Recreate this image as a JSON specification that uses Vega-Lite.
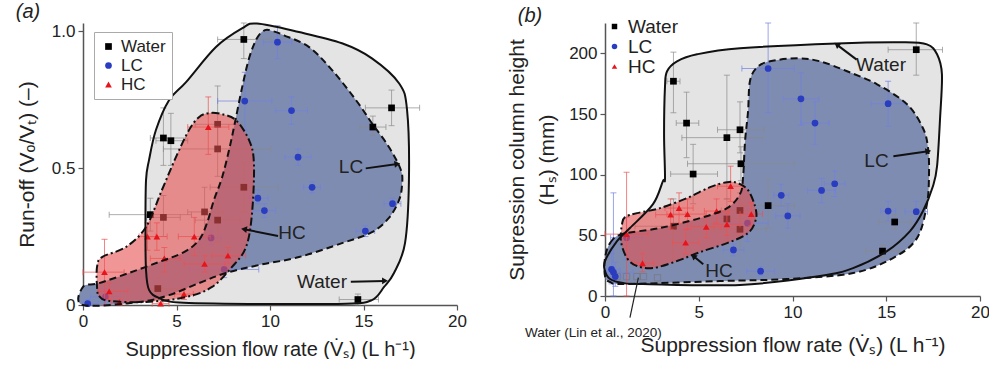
{
  "$schema": "https://vega.github.io/schema/vega-lite/v6.json",
  "padding": {"left": 15, "top": 2, "right": 0, "bottom": 0},
  "spacing": 39,
  "config": {
    "view": {"stroke": null},
    "font": "Liberation Sans",
    "axis": {"grid": false, "domainColor": "#555", "domainWidth": 1.5, "tickColor": "#555", "tickWidth": 1.2, "tickSize": 5, "labelFontSize": 17, "labelColor": "#222", "titleFontSize": 20, "titleFontWeight": "normal", "titleColor": "#222", "labelPadding": 3, "labelFlush": false},
    "text": {"color": "#222"}
  },
  "datasets": {
    "pts": [
      {"p":"a","s":"Water","x":8.6,"y":0.97,"xl":7.2,"xh":10.05,"yl":0.90,"yh":1.03},
      {"p":"a","s":"Water","x":4.3,"y":0.61,"xl":3.6,"xh":5.5,"yl":0.51,"yh":0.72},
      {"p":"a","s":"Water","x":4.7,"y":0.60,"xl":3.9,"xh":5.6,"yl":0.51,"yh":0.70},
      {"p":"a","s":"Water","x":7.2,"y":0.66,"xl":6.0,"xh":8.5,"yl":0.58,"yh":0.80},
      {"p":"a","s":"Water","x":7.2,"y":0.57,"xl":4.3,"xh":10.05,"yl":0.47,"yh":0.66},
      {"p":"a","s":"Water","x":16.5,"y":0.72,"xl":15.1,"xh":18.0,"yl":0.655,"yh":0.785},
      {"p":"a","s":"Water","x":15.5,"y":0.65,"xl":14.8,"xh":16.2,"yl":0.62,"yh":0.69},
      {"p":"a","s":"Water","x":8.6,"y":0.43,"xl":6.8,"xh":10.45,"yl":0.34,"yh":0.52},
      {"p":"a","s":"Water","x":3.6,"y":0.33,"xl":1.4,"xh":5.8,"yl":0.27,"yh":0.39},
      {"p":"a","s":"Water","x":4.3,"y":0.32,"xl":3.4,"xh":5.2,"yl":0.25,"yh":0.40},
      {"p":"a","s":"Water","x":6.5,"y":0.34,"xl":5.6,"xh":7.5,"yl":0.25,"yh":0.43},
      {"p":"a","s":"Water","x":7.2,"y":0.31,"xl":6.0,"xh":8.4,"yl":0.23,"yh":0.39},
      {"p":"a","s":"Water","x":4.0,"y":0.06,"xl":3.3,"xh":5.1,"yl":0.02,"yh":0.10},
      {"p":"a","s":"Water","x":14.7,"y":0.02,"xl":13.7,"xh":15.8,"yl":0.0,"yh":0.04},
      {"p":"a","s":"LC","x":10.4,"y":0.96,"xl":9.65,"xh":11.15,"yl":0.90,"yh":1.02},
      {"p":"a","s":"LC","x":8.65,"y":0.745,"xl":7.2,"xh":10.1,"yl":0.64,"yh":0.85},
      {"p":"a","s":"LC","x":11.15,"y":0.71,"xl":10.3,"xh":12.0,"yl":0.66,"yh":0.76},
      {"p":"a","s":"LC","x":11.5,"y":0.54,"xl":10.8,"xh":12.2,"yl":0.51,"yh":0.57},
      {"p":"a","s":"LC","x":12.25,"y":0.43,"xl":11.8,"xh":12.7,"yl":0.41,"yh":0.45},
      {"p":"a","s":"LC","x":9.35,"y":0.39,"xl":8.9,"xh":9.9,"yl":0.37,"yh":0.42},
      {"p":"a","s":"LC","x":9.7,"y":0.345,"xl":9.1,"xh":10.3,"yl":0.32,"yh":0.37},
      {"p":"a","s":"LC","x":16.55,"y":0.37,"xl":16.1,"xh":17.0,"yl":0.35,"yh":0.39},
      {"p":"a","s":"LC","x":15.1,"y":0.27,"xl":14.6,"xh":15.6,"yl":0.25,"yh":0.29},
      {"p":"a","s":"LC","x":7.55,"y":0.13,"xl":5.7,"xh":9.4,"yl":0.10,"yh":0.16},
      {"p":"a","s":"LC","x":6.85,"y":0.245,"xl":6.3,"xh":7.4,"yl":0.22,"yh":0.27},
      {"p":"a","s":"LC","x":0.25,"y":0.005,"xl":0.0,"xh":0.8,"yl":0.0,"yh":0.02},
      {"p":"a","s":"LC","x":1.2,"y":0.03,"xl":0.4,"xh":2.0,"yl":0.0,"yh":0.06},
      {"p":"a","s":"HC","x":6.7,"y":0.65,"xl":5.6,"xh":7.8,"yl":0.55,"yh":0.76},
      {"p":"a","s":"HC","x":3.45,"y":0.25,"xl":3.0,"xh":3.9,"yl":0.20,"yh":0.30},
      {"p":"a","s":"HC","x":3.95,"y":0.25,"xl":3.4,"xh":4.5,"yl":0.20,"yh":0.30},
      {"p":"a","s":"HC","x":5.95,"y":0.25,"xl":5.1,"xh":6.8,"yl":0.18,"yh":0.32},
      {"p":"a","s":"HC","x":4.35,"y":0.17,"xl":3.6,"xh":5.2,"yl":0.12,"yh":0.21},
      {"p":"a","s":"HC","x":6.5,"y":0.15,"xl":5.4,"xh":7.6,"yl":0.12,"yh":0.18},
      {"p":"a","s":"HC","x":7.75,"y":0.18,"xl":6.9,"xh":8.7,"yl":0.15,"yh":0.21},
      {"p":"a","s":"HC","x":1.15,"y":0.12,"xl":0.0,"xh":2.2,"yl":0.0,"yh":0.24},
      {"p":"a","s":"HC","x":1.4,"y":0.05,"xl":0.8,"xh":2.4,"yl":0.02,"yh":0.08},
      {"p":"a","s":"HC","x":5.4,"y":0.04,"xl":4.9,"xh":5.9,"yl":0.02,"yh":0.06},
      {"p":"a","s":"HC","x":1.95,"y":0.01,"xl":1.5,"xh":2.4,"yl":0.0,"yh":0.02},
      {"p":"a","s":"HC","x":4.15,"y":0.005,"xl":3.7,"xh":4.6,"yl":0.0,"yh":0.01},
      {"p":"b","s":"Water","x":3.65,"y":177,"xl":3.3,"xh":4.0,"yl":151,"yh":201},
      {"p":"b","s":"Water","x":4.35,"y":142.5,"xl":3.8,"xh":5.0,"yl":114,"yh":168},
      {"p":"b","s":"Water","x":4.7,"y":100.5,"xl":3.5,"xh":6.0,"yl":76,"yh":125},
      {"p":"b","s":"Water","x":6.5,"y":130.5,"xl":4.1,"xh":8.4,"yl":80,"yh":182},
      {"p":"b","s":"Water","x":7.2,"y":137,"xl":6.0,"xh":8.5,"yl":118,"yh":160},
      {"p":"b","s":"Water","x":7.25,"y":109,"xl":4.4,"xh":10.1,"yl":95,"yh":123},
      {"p":"b","s":"Water","x":16.6,"y":203,"xl":15.1,"xh":18.0,"yl":182,"yh":225},
      {"p":"b","s":"Water","x":3.65,"y":57.5,"xl":1.6,"xh":5.7,"yl":30,"yh":80},
      {"p":"b","s":"Water","x":6.5,"y":63.5,"xl":5.3,"xh":7.7,"yl":45,"yh":80},
      {"p":"b","s":"Water","x":7.2,"y":70.5,"xl":6.2,"xh":8.2,"yl":52,"yh":85},
      {"p":"b","s":"Water","x":7.2,"y":55,"xl":5.8,"xh":8.6,"yl":38,"yh":70},
      {"p":"b","s":"Water","x":8.7,"y":74.5,"xl":7.3,"xh":10.1,"yl":56,"yh":96},
      {"p":"b","s":"Water","x":15.45,"y":61,"xl":14.6,"xh":16.3,"yl":55,"yh":67},
      {"p":"b","s":"Water","x":14.8,"y":37,"xl":13.9,"xh":15.7,"yl":32,"yh":42},
      {"p":"b","s":"LC","x":8.7,"y":187.5,"xl":7.3,"xh":10.1,"yl":151,"yh":225},
      {"p":"b","s":"LC","x":10.45,"y":162.5,"xl":9.5,"xh":11.4,"yl":141,"yh":184},
      {"p":"b","s":"LC","x":11.2,"y":142.5,"xl":10.45,"xh":11.95,"yl":125,"yh":160},
      {"p":"b","s":"LC","x":15.1,"y":158.5,"xl":14.2,"xh":16.0,"yl":140,"yh":177},
      {"p":"b","s":"LC","x":9.4,"y":83,"xl":9.0,"xh":9.8,"yl":74,"yh":92},
      {"p":"b","s":"LC","x":11.55,"y":87,"xl":10.8,"xh":12.3,"yl":77,"yh":97},
      {"p":"b","s":"LC","x":12.25,"y":92.5,"xl":11.7,"xh":12.8,"yl":82,"yh":103},
      {"p":"b","s":"LC","x":9.75,"y":66,"xl":9.1,"xh":10.4,"yl":56,"yh":76},
      {"p":"b","s":"LC","x":15.1,"y":70,"xl":14.7,"xh":15.5,"yl":62,"yh":78},
      {"p":"b","s":"LC","x":16.6,"y":69.5,"xl":16.0,"xh":17.2,"yl":61,"yh":78},
      {"p":"b","s":"LC","x":6.85,"y":38,"xl":6.3,"xh":7.4,"yl":33,"yh":43},
      {"p":"b","s":"LC","x":8.3,"y":20.5,"xl":7.55,"xh":9.05,"yl":17,"yh":24},
      {"p":"b","s":"LC","x":7.6,"y":60,"xl":6.5,"xh":8.7,"yl":45,"yh":72},
      {"p":"b","s":"LC","x":1.15,"y":48,"xl":0.3,"xh":2.0,"yl":30,"yh":65},
      {"p":"b","s":"LC","x":0.45,"y":19.5,"xl":0.0,"xh":1.5,"yl":0,"yh":85},
      {"p":"b","s":"LC","x":0.35,"y":22,"xl":0.1,"xh":0.8,"yl":10,"yh":35},
      {"p":"b","s":"LC","x":0.55,"y":16,"xl":0.2,"xh":0.9,"yl":8,"yh":28},
      {"p":"b","s":"HC","x":1.15,"y":51,"xl":0.0,"xh":2.3,"yl":0,"yh":102},
      {"p":"b","s":"HC","x":2.0,"y":27,"xl":1.5,"xh":2.6,"yl":20,"yh":35},
      {"p":"b","s":"HC","x":3.5,"y":67,"xl":2.7,"xh":4.3,"yl":55,"yh":80},
      {"p":"b","s":"HC","x":3.95,"y":72.5,"xl":3.2,"xh":4.7,"yl":60,"yh":85},
      {"p":"b","s":"HC","x":4.4,"y":67.5,"xl":3.3,"xh":5.4,"yl":55,"yh":80},
      {"p":"b","s":"HC","x":4.3,"y":44,"xl":3.6,"xh":5.0,"yl":35,"yh":55},
      {"p":"b","s":"HC","x":5.4,"y":57,"xl":4.6,"xh":6.2,"yl":48,"yh":66},
      {"p":"b","s":"HC","x":5.95,"y":70,"xl":5.3,"xh":6.6,"yl":60,"yh":80},
      {"p":"b","s":"HC","x":6.5,"y":59,"xl":5.8,"xh":7.2,"yl":50,"yh":68},
      {"p":"b","s":"HC","x":6.7,"y":90.5,"xl":6.0,"xh":7.4,"yl":78,"yh":107},
      {"p":"b","s":"HC","x":7.8,"y":67.5,"xl":7.2,"xh":8.4,"yl":58,"yh":77}
    ],
    "lin": [
      {"x":0.65,"y":16},{"x":1.15,"y":16},{"x":1.7,"y":16},{"x":2.05,"y":16},{"x":2.8,"y":15}
    ],
    "minor": [
      {"p":"a","ax":"x","v":2.5},{"p":"a","ax":"x","v":7.5},{"p":"a","ax":"x","v":12.5},{"p":"a","ax":"x","v":17.5},
      {"p":"a","ax":"y","v":0.25},{"p":"a","ax":"y","v":0.75},
      {"p":"b","ax":"x","v":2.5},{"p":"b","ax":"x","v":7.5},{"p":"b","ax":"x","v":12.5},{"p":"b","ax":"x","v":17.5},
      {"p":"b","ax":"y","v":25},{"p":"b","ax":"y","v":75},{"p":"b","ax":"y","v":125},{"p":"b","ax":"y","v":175}
    ],
    "regions": [
      {"p":"a","r":"Water","i":0,"x":5.13,"y":0.009},{"p":"a","r":"Water","i":1,"x":4.06,"y":0.026},{"p":"a","r":"Water","i":2,"x":3.53,"y":0.055},{"p":"a","r":"Water","i":3,"x":3.37,"y":0.128},{"p":"a","r":"Water","i":4,"x":3.34,"y":0.274},{"p":"a","r":"Water","i":5,"x":3.37,"y":0.456},{"p":"a","r":"Water","i":6,"x":3.53,"y":0.529},{"p":"a","r":"Water","i":7,"x":3.9,"y":0.639},{"p":"a","r":"Water","i":8,"x":4.6,"y":0.748},{"p":"a","r":"Water","i":9,"x":5.51,"y":0.814},{"p":"a","r":"Water","i":10,"x":7.11,"y":0.942},{"p":"a","r":"Water","i":11,"x":8.5,"y":1.01},{"p":"a","r":"Water","i":12,"x":9.3,"y":1.028},{"p":"a","r":"Water","i":13,"x":11.55,"y":0.997},{"p":"a","r":"Water","i":14,"x":13.85,"y":0.956},{"p":"a","r":"Water","i":15,"x":15.45,"y":0.901},{"p":"a","r":"Water","i":16,"x":16.9,"y":0.81},{"p":"a","r":"Water","i":17,"x":17.33,"y":0.712},{"p":"a","r":"Water","i":18,"x":17.43,"y":0.456},{"p":"a","r":"Water","i":19,"x":17.22,"y":0.226},{"p":"a","r":"Water","i":20,"x":16.63,"y":0.117},{"p":"a","r":"Water","i":21,"x":16.1,"y":0.066},{"p":"a","r":"Water","i":22,"x":15.45,"y":0.018},{"p":"a","r":"Water","i":23,"x":14.06,"y":0.005},{"p":"a","r":"Water","i":24,"x":8.88,"y":0.004},
      {"p":"a","r":"LC","i":0,"x":0,"y":0.066},{"p":"a","r":"LC","i":1,"x":0.86,"y":0.08},{"p":"a","r":"LC","i":2,"x":2.46,"y":0.117},{"p":"a","r":"LC","i":3,"x":4.06,"y":0.157},{"p":"a","r":"LC","i":4,"x":5.4,"y":0.193},{"p":"a","r":"LC","i":5,"x":6.2,"y":0.237},{"p":"a","r":"LC","i":6,"x":6.63,"y":0.299},{"p":"a","r":"LC","i":7,"x":7.0,"y":0.383},{"p":"a","r":"LC","i":8,"x":7.43,"y":0.464},{"p":"a","r":"LC","i":9,"x":7.81,"y":0.566},{"p":"a","r":"LC","i":10,"x":8.13,"y":0.668},{"p":"a","r":"LC","i":11,"x":8.5,"y":0.792},{"p":"a","r":"LC","i":12,"x":8.88,"y":0.901},{"p":"a","r":"LC","i":13,"x":9.3,"y":0.974},{"p":"a","r":"LC","i":14,"x":9.73,"y":1.004},{"p":"a","r":"LC","i":15,"x":10.16,"y":1.0},{"p":"a","r":"LC","i":16,"x":10.75,"y":0.985},{"p":"a","r":"LC","i":17,"x":12.09,"y":0.942},{"p":"a","r":"LC","i":18,"x":13.32,"y":0.858},{"p":"a","r":"LC","i":19,"x":14.6,"y":0.748},{"p":"a","r":"LC","i":20,"x":15.45,"y":0.664},{"p":"a","r":"LC","i":21,"x":16.36,"y":0.577},{"p":"a","r":"LC","i":22,"x":17.0,"y":0.493},{"p":"a","r":"LC","i":23,"x":17.06,"y":0.438},{"p":"a","r":"LC","i":24,"x":16.9,"y":0.383},{"p":"a","r":"LC","i":25,"x":16.36,"y":0.318},{"p":"a","r":"LC","i":26,"x":15.45,"y":0.266},{"p":"a","r":"LC","i":27,"x":13.85,"y":0.226},{"p":"a","r":"LC","i":28,"x":11.55,"y":0.175},{"p":"a","r":"LC","i":29,"x":9.41,"y":0.146},{"p":"a","r":"LC","i":30,"x":7.65,"y":0.117},{"p":"a","r":"LC","i":31,"x":6.2,"y":0.08},{"p":"a","r":"LC","i":32,"x":4.6,"y":0.036},{"p":"a","r":"LC","i":33,"x":3.0,"y":0.011},{"p":"a","r":"LC","i":34,"x":0,"y":0},
      {"p":"a","r":"HC","i":0,"x":0.75,"y":0.066},{"p":"a","r":"HC","i":1,"x":0.86,"y":0.033},{"p":"a","r":"HC","i":2,"x":1.39,"y":0.015},{"p":"a","r":"HC","i":3,"x":3.37,"y":0.011},{"p":"a","r":"HC","i":4,"x":5.51,"y":0.029},{"p":"a","r":"HC","i":5,"x":6.9,"y":0.066},{"p":"a","r":"HC","i":6,"x":7.97,"y":0.139},{"p":"a","r":"HC","i":7,"x":8.72,"y":0.212},{"p":"a","r":"HC","i":8,"x":9.04,"y":0.336},{"p":"a","r":"HC","i":9,"x":9.14,"y":0.518},{"p":"a","r":"HC","i":10,"x":8.88,"y":0.602},{"p":"a","r":"HC","i":11,"x":8.18,"y":0.675},{"p":"a","r":"HC","i":12,"x":7.43,"y":0.697},{"p":"a","r":"HC","i":13,"x":6.74,"y":0.701},{"p":"a","r":"HC","i":14,"x":6.2,"y":0.686},{"p":"a","r":"HC","i":15,"x":5.67,"y":0.639},{"p":"a","r":"HC","i":16,"x":4.97,"y":0.54},{"p":"a","r":"HC","i":17,"x":4.22,"y":0.42},{"p":"a","r":"HC","i":18,"x":3.37,"y":0.285},{"p":"a","r":"HC","i":19,"x":2.3,"y":0.212},{"p":"a","r":"HC","i":20,"x":1.02,"y":0.175},{"p":"a","r":"HC","i":21,"x":0.75,"y":0.139},
      {"p":"b","r":"Water","i":0,"x":3.2,"y":97.1},{"p":"b","r":"Water","i":1,"x":3.15,"y":133.3},{"p":"b","r":"Water","i":2,"x":3.2,"y":172.8},{"p":"b","r":"Water","i":3,"x":3.31,"y":185.2},{"p":"b","r":"Water","i":4,"x":3.84,"y":193.4},{"p":"b","r":"Water","i":5,"x":4.91,"y":199.2},{"p":"b","r":"Water","i":6,"x":7.2,"y":204.1},{"p":"b","r":"Water","i":7,"x":12.37,"y":208.2},{"p":"b","r":"Water","i":8,"x":15.89,"y":209.1},{"p":"b","r":"Water","i":9,"x":17.17,"y":207.4},{"p":"b","r":"Water","i":10,"x":17.71,"y":199.2},{"p":"b","r":"Water","i":11,"x":17.97,"y":182.7},{"p":"b","r":"Water","i":12,"x":17.87,"y":146.5},{"p":"b","r":"Water","i":13,"x":17.71,"y":107},{"p":"b","r":"Water","i":14,"x":17.49,"y":90.5},{"p":"b","r":"Water","i":15,"x":16.96,"y":70},{"p":"b","r":"Water","i":16,"x":16.27,"y":53.5},{"p":"b","r":"Water","i":17,"x":15.04,"y":37},{"p":"b","r":"Water","i":18,"x":13.23,"y":23},{"p":"b","r":"Water","i":19,"x":11.47,"y":16.5},{"p":"b","r":"Water","i":20,"x":7.2,"y":9.1},{"p":"b","r":"Water","i":21,"x":2.03,"y":9.9},{"p":"b","r":"Water","i":22,"x":0.96,"y":10.7},{"p":"b","r":"Water","i":23,"x":0.27,"y":14},{"p":"b","r":"Water","i":24,"x":0,"y":20.6},{"p":"b","r":"Water","i":25,"x":0,"y":28.8},{"p":"b","r":"Water","i":26,"x":0.64,"y":45.3},{"p":"b","r":"Water","i":27,"x":1.33,"y":56},{"p":"b","r":"Water","i":28,"x":2.56,"y":75.7},{"p":"b","r":"Water","i":29,"x":3.09,"y":94.7},
      {"p":"b","r":"LC","i":0,"x":0,"y":31.3},{"p":"b","r":"LC","i":1,"x":0.27,"y":43.6},{"p":"b","r":"LC","i":2,"x":0.91,"y":51},{"p":"b","r":"LC","i":3,"x":2.93,"y":56},{"p":"b","r":"LC","i":4,"x":5.07,"y":64.2},{"p":"b","r":"LC","i":5,"x":6.51,"y":72.4},{"p":"b","r":"LC","i":6,"x":7.2,"y":84},{"p":"b","r":"LC","i":7,"x":7.36,"y":97.1},{"p":"b","r":"LC","i":8,"x":7.47,"y":127.6},{"p":"b","r":"LC","i":9,"x":7.63,"y":152.3},{"p":"b","r":"LC","i":10,"x":7.73,"y":177},{"p":"b","r":"LC","i":11,"x":8.11,"y":188.5},{"p":"b","r":"LC","i":12,"x":8.8,"y":193.4},{"p":"b","r":"LC","i":13,"x":10.24,"y":195.9},{"p":"b","r":"LC","i":14,"x":11.47,"y":193.4},{"p":"b","r":"LC","i":15,"x":12.91,"y":185.2},{"p":"b","r":"LC","i":16,"x":14.51,"y":174.5},{"p":"b","r":"LC","i":17,"x":16.11,"y":158},{"p":"b","r":"LC","i":18,"x":16.96,"y":138.3},{"p":"b","r":"LC","i":19,"x":17.23,"y":121.8},{"p":"b","r":"LC","i":20,"x":17.28,"y":100.4},{"p":"b","r":"LC","i":21,"x":17.17,"y":75.7},{"p":"b","r":"LC","i":22,"x":16.64,"y":47.7},{"p":"b","r":"LC","i":23,"x":15.36,"y":31.3},{"p":"b","r":"LC","i":24,"x":13.23,"y":18.9},{"p":"b","r":"LC","i":25,"x":9.71,"y":14},{"p":"b","r":"LC","i":26,"x":6.13,"y":12.3},{"p":"b","r":"LC","i":27,"x":1.17,"y":9.9},{"p":"b","r":"LC","i":28,"x":0.27,"y":11.5},{"p":"b","r":"LC","i":29,"x":0,"y":16.5},
      {"p":"b","r":"HC","i":0,"x":0.85,"y":45.3},{"p":"b","r":"HC","i":1,"x":0.91,"y":59.3},{"p":"b","r":"HC","i":2,"x":1.07,"y":65},{"p":"b","r":"HC","i":3,"x":1.71,"y":68.3},{"p":"b","r":"HC","i":4,"x":2.93,"y":72.4},{"p":"b","r":"HC","i":5,"x":4.37,"y":80.7},{"p":"b","r":"HC","i":6,"x":5.6,"y":89.7},{"p":"b","r":"HC","i":7,"x":6.51,"y":93.8},{"p":"b","r":"HC","i":8,"x":7.09,"y":93},{"p":"b","r":"HC","i":9,"x":7.63,"y":87.2},{"p":"b","r":"HC","i":10,"x":8.0,"y":74.1},{"p":"b","r":"HC","i":11,"x":8.05,"y":63.4},{"p":"b","r":"HC","i":12,"x":7.63,"y":51.9},{"p":"b","r":"HC","i":13,"x":6.51,"y":43.6},{"p":"b","r":"HC","i":14,"x":5.07,"y":36.2},{"p":"b","r":"HC","i":15,"x":3.84,"y":28.8},{"p":"b","r":"HC","i":16,"x":2.56,"y":23},{"p":"b","r":"HC","i":17,"x":1.71,"y":24.7},{"p":"b","r":"HC","i":18,"x":1.17,"y":31.3}
    ],
    "notes": [
      {"p":"a","t":"LC","x":14.33,"y":0.504},
      {"p":"a","t":"HC","x":11.18,"y":0.263},
      {"p":"a","t":"Water","x":12.78,"y":0.084},
      {"p":"b","t":"Water","x":14.72,"y":190.7},
      {"p":"b","t":"LC","x":14.48,"y":111.5},
      {"p":"b","t":"HC","x":6.08,"y":20.6}
    ],
    "arrows": [
      {"p":"a","t":"LC","x":15.12,"y":0.499,"tx":16.81,"ty":0.515},
      {"p":"a","t":"HC","x":10.43,"y":0.252,"tx":8.61,"ty":0.277},
      {"p":"a","t":"Water","x":14.32,"y":0.085,"tx":16.15,"ty":0.088},
      {"p":"b","t":"Water","x":13.42,"y":194.8,"tx":12.36,"ty":207.2},
      {"p":"b","t":"LC","x":15.38,"y":115.2,"tx":17.24,"ty":119.3},
      {"p":"b","t":"HC","x":5.24,"y":26.1,"tx":4.71,"ty":32.9}
    ]
  },
  "resolve": {
    "scale": {"x": "independent", "y": "independent", "color": "independent", "shape": "independent"},
    "legend": {"color": "independent", "shape": "independent"}
  },
  "hconcat": [
    {
      "width": 374,
      "height": 282,
      "encoding": {
        "x": {"field": "x", "type": "quantitative", "scale": {"domain": [0, 20], "nice": false},
              "axis": {"values": [0, 5, 10, 15, 20], "title": "Suppression flow rate (V\u0307\u209b) (L h\u207b\u00b9)", "titlePadding": 10}},
        "y": {"field": "y", "type": "quantitative", "scale": {"domain": [0, 1.03], "nice": false},
              "axis": {"values": [0, 0.5, 1], "labelExpr": "datum.value == 0 ? '0' : format(datum.value, '.1f')", "title": "Run-off (V\u2092/V\u209c) (\u2013)", "titleFontSize": 21, "titlePadding": 14}}
      },
      "layer": [
        {"data": {"name": "regions"}, "transform": [{"filter": "datum.p === 'a' && datum.r === 'Water'"}],
         "mark": {"type": "line", "interpolate": "cardinal-closed", "fill": "#e4e4e4", "strokeOpacity": 0},
         "encoding": {"order": {"field": "i", "type": "quantitative"}}},
        {"data": {"name": "regions"}, "transform": [{"filter": "datum.p === 'a' && datum.r === 'LC'"}],
         "mark": {"type": "line", "interpolate": "cardinal-closed", "fill": "#7e8cb2", "strokeOpacity": 0},
         "encoding": {"order": {"field": "i", "type": "quantitative"}}},
        {"data": {"name": "pts"}, "transform": [{"filter": "datum.p === 'a' && datum.s !== 'HC'"}],
         "mark": {"type": "errorbar", "ticks": true, "size": 6, "thickness": 1},
         "encoding": {"x": {"field": "x", "type": "quantitative"}, "y": {"field": "yl", "type": "quantitative"}, "y2": {"field": "yh"},
                      "color": {"condition": {"test": "datum.s === 'Water'", "value": "#8a8a8a"}, "value": "#7080e0"}, "opacity": {"value": 0.7}}},
        {"data": {"name": "pts"}, "transform": [{"filter": "datum.p === 'a' && datum.s !== 'HC'"}],
         "mark": {"type": "errorbar", "ticks": true, "size": 6, "thickness": 1},
         "encoding": {"y": {"field": "y", "type": "quantitative"}, "x": {"field": "xl", "type": "quantitative"}, "x2": {"field": "xh"},
                      "color": {"condition": {"test": "datum.s === 'Water'", "value": "#8a8a8a"}, "value": "#7080e0"}, "opacity": {"value": 0.7}}},
        {"data": {"name": "pts"}, "transform": [{"filter": "datum.p === 'a' && datum.s !== 'HC'"}],
         "mark": {"type": "point", "filled": true, "size": 45, "opacity": 1},
         "encoding": {
           "color": {"field": "s", "type": "nominal", "scale": {"domain": ["Water", "LC", "HC"], "range": ["#000000", "#2a3cbf", "#e8141c"]},
                     "legend": {"orient": "none", "legendX": 11, "legendY": 9, "title": null, "strokeColor": "#aaa", "fillColor": "white", "padding": 6, "labelFontSize": 17, "symbolSize": 45, "rowPadding": 1, "labelColor": "#222"}},
           "shape": {"field": "s", "type": "nominal", "scale": {"domain": ["Water", "LC", "HC"], "range": ["square", "circle", "triangle-up"]},
                     "legend": {"orient": "none", "legendX": 11, "legendY": 9, "title": null, "strokeColor": "#aaa", "fillColor": "white", "padding": 6, "labelFontSize": 17, "symbolSize": 45, "rowPadding": 1, "labelColor": "#222"}}
         }},
        {"data": {"name": "regions"}, "transform": [{"filter": "datum.p === 'a' && datum.r === 'HC'"}],
         "mark": {"type": "line", "interpolate": "cardinal-closed", "fill": "#e85050", "fillOpacity": 0.6, "strokeOpacity": 0},
         "encoding": {"order": {"field": "i", "type": "quantitative"}}},
        {"data": {"name": "pts"}, "transform": [{"filter": "datum.p === 'a' && datum.s === 'HC'"}],
         "mark": {"type": "errorbar", "ticks": true, "size": 6, "thickness": 1},
         "encoding": {"x": {"field": "x", "type": "quantitative"}, "y": {"field": "yl", "type": "quantitative"}, "y2": {"field": "yh"},
                      "color": {"value": "#f05050"}, "opacity": {"value": 0.7}}},
        {"data": {"name": "pts"}, "transform": [{"filter": "datum.p === 'a' && datum.s === 'HC'"}],
         "mark": {"type": "errorbar", "ticks": true, "size": 6, "thickness": 1},
         "encoding": {"y": {"field": "y", "type": "quantitative"}, "x": {"field": "xl", "type": "quantitative"}, "x2": {"field": "xh"},
                      "color": {"value": "#f05050"}, "opacity": {"value": 0.7}}},
        {"data": {"name": "pts"}, "transform": [{"filter": "datum.p === 'a' && datum.s === 'HC'"}],
         "mark": {"type": "point", "filled": true, "size": 45, "opacity": 1},
         "encoding": {
           "color": {"field": "s", "type": "nominal", "scale": {"domain": ["Water", "LC", "HC"], "range": ["#000000", "#2a3cbf", "#e8141c"]},
                     "legend": {"orient": "none", "legendX": 11, "legendY": 9, "title": null, "strokeColor": "#aaa", "fillColor": "white", "padding": 6, "labelFontSize": 17, "symbolSize": 45, "rowPadding": 1, "labelColor": "#222"}},
           "shape": {"field": "s", "type": "nominal", "scale": {"domain": ["Water", "LC", "HC"], "range": ["square", "circle", "triangle-up"]},
                     "legend": {"orient": "none", "legendX": 11, "legendY": 9, "title": null, "strokeColor": "#aaa", "fillColor": "white", "padding": 6, "labelFontSize": 17, "symbolSize": 45, "rowPadding": 1, "labelColor": "#222"}}
         }},
        {"data": {"name": "regions"}, "transform": [{"filter": "datum.p === 'a' && datum.r === 'Water'"}],
         "mark": {"type": "line", "interpolate": "cardinal-closed", "stroke": "#111", "strokeWidth": 2},
         "encoding": {"order": {"field": "i", "type": "quantitative"}}},
        {"data": {"name": "regions"}, "transform": [{"filter": "datum.p === 'a' && datum.r === 'LC'"}],
         "mark": {"type": "line", "interpolate": "cardinal-closed", "stroke": "#111", "strokeWidth": 2, "strokeDash": [7, 4]},
         "encoding": {"order": {"field": "i", "type": "quantitative"}}},
        {"data": {"name": "regions"}, "transform": [{"filter": "datum.p === 'a' && datum.r === 'HC'"}],
         "mark": {"type": "line", "interpolate": "cardinal-closed", "stroke": "#111", "strokeWidth": 2, "strokeDash": [8, 3, 2, 3]},
         "encoding": {"order": {"field": "i", "type": "quantitative"}}},
        {"data": {"name": "arrows"}, "transform": [{"filter": "datum.p === 'a'"}],
         "mark": {"type": "rule", "color": "#111", "strokeWidth": 2},
         "encoding": {"x2": {"field": "tx"}, "y2": {"field": "ty"}}},
        {"data": {"name": "arrows"}, "transform": [{"filter": "datum.p === 'a'"}],
         "mark": {"type": "point", "shape": "triangle-right", "filled": true, "color": "#111", "size": 45, "opacity": 1},
         "encoding": {"x": {"field": "tx", "type": "quantitative"}, "y": {"field": "ty", "type": "quantitative"},
                      "angle": {"condition": [{"test": "datum.t === 'LC'", "value": 352}, {"test": "datum.t === 'HC'", "value": 190}], "value": 359}}},
        {"data": {"name": "minor"}, "transform": [{"filter": "datum.p === 'a' && datum.ax === 'x'"}],
         "mark": {"type": "tick", "orient": "vertical", "size": 4, "thickness": 1.2, "color": "#555", "yOffset": 2.5},
         "encoding": {"x": {"field": "v", "type": "quantitative"}, "y": {"datum": 0}}},
        {"data": {"name": "minor"}, "transform": [{"filter": "datum.p === 'a' && datum.ax === 'y'"}],
         "mark": {"type": "tick", "orient": "horizontal", "size": 4, "thickness": 1.2, "color": "#555", "xOffset": -2.5},
         "encoding": {"y": {"field": "v", "type": "quantitative"}, "x": {"datum": 0}}},
        {"data": {"name": "notes"}, "transform": [{"filter": "datum.p === 'a'"}],
         "mark": {"type": "text", "fontSize": 19, "align": "center", "baseline": "middle", "color": "#222"},
         "encoding": {"text": {"field": "t"}}},
        {"data": {"values": [{"t": "(a)", "x": -2.94, "y": 1.07}]},
         "mark": {"type": "text", "fontSize": 20, "fontStyle": "italic", "align": "center", "baseline": "middle", "color": "#222"},
         "encoding": {"text": {"field": "t"}}}
      ]
    },
    {
      "width": 375,
      "height": 273,
      "encoding": {
        "x": {"field": "x", "type": "quantitative", "scale": {"domain": [0, 20], "nice": false},
              "axis": {"values": [0, 5, 10, 15, 20], "title": "Suppression flow rate (V\u0307\u209b) (L h\u207b\u00b9)", "titleFontSize": 21, "titlePadding": 14}},
        "y": {"field": "y", "type": "quantitative", "scale": {"domain": [0, 225], "nice": false},
              "axis": {"values": [0, 50, 100, 150, 200], "title": ["Supression column height", "(H\u209b) (mm)"], "titleFontSize": 21, "titleLineHeight": 30, "titlePadding": 11}}
      },
      "layer": [
        {"data": {"name": "regions"}, "transform": [{"filter": "datum.p === 'b' && datum.r === 'Water'"}],
         "mark": {"type": "line", "interpolate": "cardinal-closed", "fill": "#e4e4e4", "strokeOpacity": 0},
         "encoding": {"order": {"field": "i", "type": "quantitative"}}},
        {"data": {"name": "regions"}, "transform": [{"filter": "datum.p === 'b' && datum.r === 'LC'"}],
         "mark": {"type": "line", "interpolate": "cardinal-closed", "fill": "#7e8cb2", "strokeOpacity": 0},
         "encoding": {"order": {"field": "i", "type": "quantitative"}}},
        {"data": {"name": "lin"},
         "mark": {"type": "point", "shape": "square", "filled": false, "size": 40, "color": "#777", "strokeWidth": 1}},
        {"data": {"name": "pts"}, "transform": [{"filter": "datum.p === 'b' && datum.s !== 'HC'"}],
         "mark": {"type": "errorbar", "ticks": true, "size": 6, "thickness": 1},
         "encoding": {"x": {"field": "x", "type": "quantitative"}, "y": {"field": "yl", "type": "quantitative"}, "y2": {"field": "yh"},
                      "color": {"condition": {"test": "datum.s === 'Water'", "value": "#8a8a8a"}, "value": "#7080e0"}, "opacity": {"value": 0.7}}},
        {"data": {"name": "pts"}, "transform": [{"filter": "datum.p === 'b' && datum.s !== 'HC'"}],
         "mark": {"type": "errorbar", "ticks": true, "size": 6, "thickness": 1},
         "encoding": {"y": {"field": "y", "type": "quantitative"}, "x": {"field": "xl", "type": "quantitative"}, "x2": {"field": "xh"},
                      "color": {"condition": {"test": "datum.s === 'Water'", "value": "#8a8a8a"}, "value": "#7080e0"}, "opacity": {"value": 0.7}}},
        {"data": {"name": "pts"}, "transform": [{"filter": "datum.p === 'b' && datum.s !== 'HC'"}],
         "mark": {"type": "point", "filled": true, "size": 45, "opacity": 1},
         "encoding": {
           "color": {"field": "s", "type": "nominal", "scale": {"domain": ["Water", "LC", "HC"], "range": ["#000000", "#2a3cbf", "#e8141c"]},
                     "legend": {"orient": "none", "legendX": 0, "legendY": -6, "title": null, "padding": 0, "labelFontSize": 19, "symbolSize": 30, "rowPadding": 0, "labelColor": "#222", "labelOffset": 4}},
           "shape": {"field": "s", "type": "nominal", "scale": {"domain": ["Water", "LC", "HC"], "range": ["square", "circle", "triangle-up"]},
                     "legend": {"orient": "none", "legendX": 0, "legendY": -6, "title": null, "padding": 0, "labelFontSize": 19, "symbolSize": 30, "rowPadding": 0, "labelColor": "#222", "labelOffset": 4}}
         }},
        {"data": {"name": "regions"}, "transform": [{"filter": "datum.p === 'b' && datum.r === 'HC'"}],
         "mark": {"type": "line", "interpolate": "cardinal-closed", "fill": "#e85050", "fillOpacity": 0.6, "strokeOpacity": 0},
         "encoding": {"order": {"field": "i", "type": "quantitative"}}},
        {"data": {"name": "pts"}, "transform": [{"filter": "datum.p === 'b' && datum.s === 'HC'"}],
         "mark": {"type": "errorbar", "ticks": true, "size": 6, "thickness": 1},
         "encoding": {"x": {"field": "x", "type": "quantitative"}, "y": {"field": "yl", "type": "quantitative"}, "y2": {"field": "yh"},
                      "color": {"value": "#f05050"}, "opacity": {"value": 0.7}}},
        {"data": {"name": "pts"}, "transform": [{"filter": "datum.p === 'b' && datum.s === 'HC'"}],
         "mark": {"type": "errorbar", "ticks": true, "size": 6, "thickness": 1},
         "encoding": {"y": {"field": "y", "type": "quantitative"}, "x": {"field": "xl", "type": "quantitative"}, "x2": {"field": "xh"},
                      "color": {"value": "#f05050"}, "opacity": {"value": 0.7}}},
        {"data": {"name": "pts"}, "transform": [{"filter": "datum.p === 'b' && datum.s === 'HC'"}],
         "mark": {"type": "point", "filled": true, "size": 45, "opacity": 1},
         "encoding": {
           "color": {"field": "s", "type": "nominal", "scale": {"domain": ["Water", "LC", "HC"], "range": ["#000000", "#2a3cbf", "#e8141c"]},
                     "legend": {"orient": "none", "legendX": 0, "legendY": -6, "title": null, "padding": 0, "labelFontSize": 19, "symbolSize": 30, "rowPadding": 0, "labelColor": "#222", "labelOffset": 4}},
           "shape": {"field": "s", "type": "nominal", "scale": {"domain": ["Water", "LC", "HC"], "range": ["square", "circle", "triangle-up"]},
                     "legend": {"orient": "none", "legendX": 0, "legendY": -6, "title": null, "padding": 0, "labelFontSize": 19, "symbolSize": 30, "rowPadding": 0, "labelColor": "#222", "labelOffset": 4}}
         }},
        {"data": {"name": "regions"}, "transform": [{"filter": "datum.p === 'b' && datum.r === 'Water'"}],
         "mark": {"type": "line", "interpolate": "cardinal-closed", "stroke": "#111", "strokeWidth": 2},
         "encoding": {"order": {"field": "i", "type": "quantitative"}}},
        {"data": {"name": "regions"}, "transform": [{"filter": "datum.p === 'b' && datum.r === 'LC'"}],
         "mark": {"type": "line", "interpolate": "cardinal-closed", "stroke": "#111", "strokeWidth": 2, "strokeDash": [7, 4]},
         "encoding": {"order": {"field": "i", "type": "quantitative"}}},
        {"data": {"name": "regions"}, "transform": [{"filter": "datum.p === 'b' && datum.r === 'HC'"}],
         "mark": {"type": "line", "interpolate": "cardinal-closed", "stroke": "#111", "strokeWidth": 2, "strokeDash": [8, 3, 2, 3]},
         "encoding": {"order": {"field": "i", "type": "quantitative"}}},
        {"data": {"name": "arrows"}, "transform": [{"filter": "datum.p === 'b'"}],
         "mark": {"type": "rule", "color": "#111", "strokeWidth": 2},
         "encoding": {"x2": {"field": "tx"}, "y2": {"field": "ty"}}},
        {"data": {"name": "arrows"}, "transform": [{"filter": "datum.p === 'b'"}],
         "mark": {"type": "point", "shape": "triangle-right", "filled": true, "color": "#111", "size": 45, "opacity": 1},
         "encoding": {"x": {"field": "tx", "type": "quantitative"}, "y": {"field": "ty", "type": "quantitative"},
                      "angle": {"condition": [{"test": "datum.t === 'LC'", "value": 352}, {"test": "datum.t === 'HC'", "value": 220}], "value": 217}}},
        {"data": {"values": [{"x": 1.33, "y": -17.9, "tx": 1.78, "ty": 15.1}]},
         "mark": {"type": "rule", "color": "#222", "strokeWidth": 1.2},
         "encoding": {"x2": {"field": "tx"}, "y2": {"field": "ty"}}},
        {"data": {"name": "minor"}, "transform": [{"filter": "datum.p === 'b' && datum.ax === 'x'"}],
         "mark": {"type": "tick", "orient": "vertical", "size": 4, "thickness": 1.2, "color": "#555", "yOffset": 2.5},
         "encoding": {"x": {"field": "v", "type": "quantitative"}, "y": {"datum": 0}}},
        {"data": {"name": "minor"}, "transform": [{"filter": "datum.p === 'b' && datum.ax === 'y'"}],
         "mark": {"type": "tick", "orient": "horizontal", "size": 4, "thickness": 1.2, "color": "#555", "xOffset": -2.5},
         "encoding": {"y": {"field": "v", "type": "quantitative"}, "x": {"datum": 0}}},
        {"data": {"values": [{"t": "Water (Lin et al., 2020)", "x": -0.62, "y": -30.5}]},
         "mark": {"type": "text", "fontSize": 13.5, "align": "center", "baseline": "middle", "color": "#222"},
         "encoding": {"text": {"field": "t"}}},
        {"data": {"name": "notes"}, "transform": [{"filter": "datum.p === 'b'"}],
         "mark": {"type": "text", "fontSize": 19, "align": "center", "baseline": "middle", "color": "#222"},
         "encoding": {"text": {"field": "t"}}},
        {"data": {"values": [{"t": "(b)", "x": -4.0, "y": 231}]},
         "mark": {"type": "text", "fontSize": 20, "fontStyle": "italic", "align": "center", "baseline": "middle", "color": "#222"},
         "encoding": {"text": {"field": "t"}}}
      ]
    }
  ]
}
